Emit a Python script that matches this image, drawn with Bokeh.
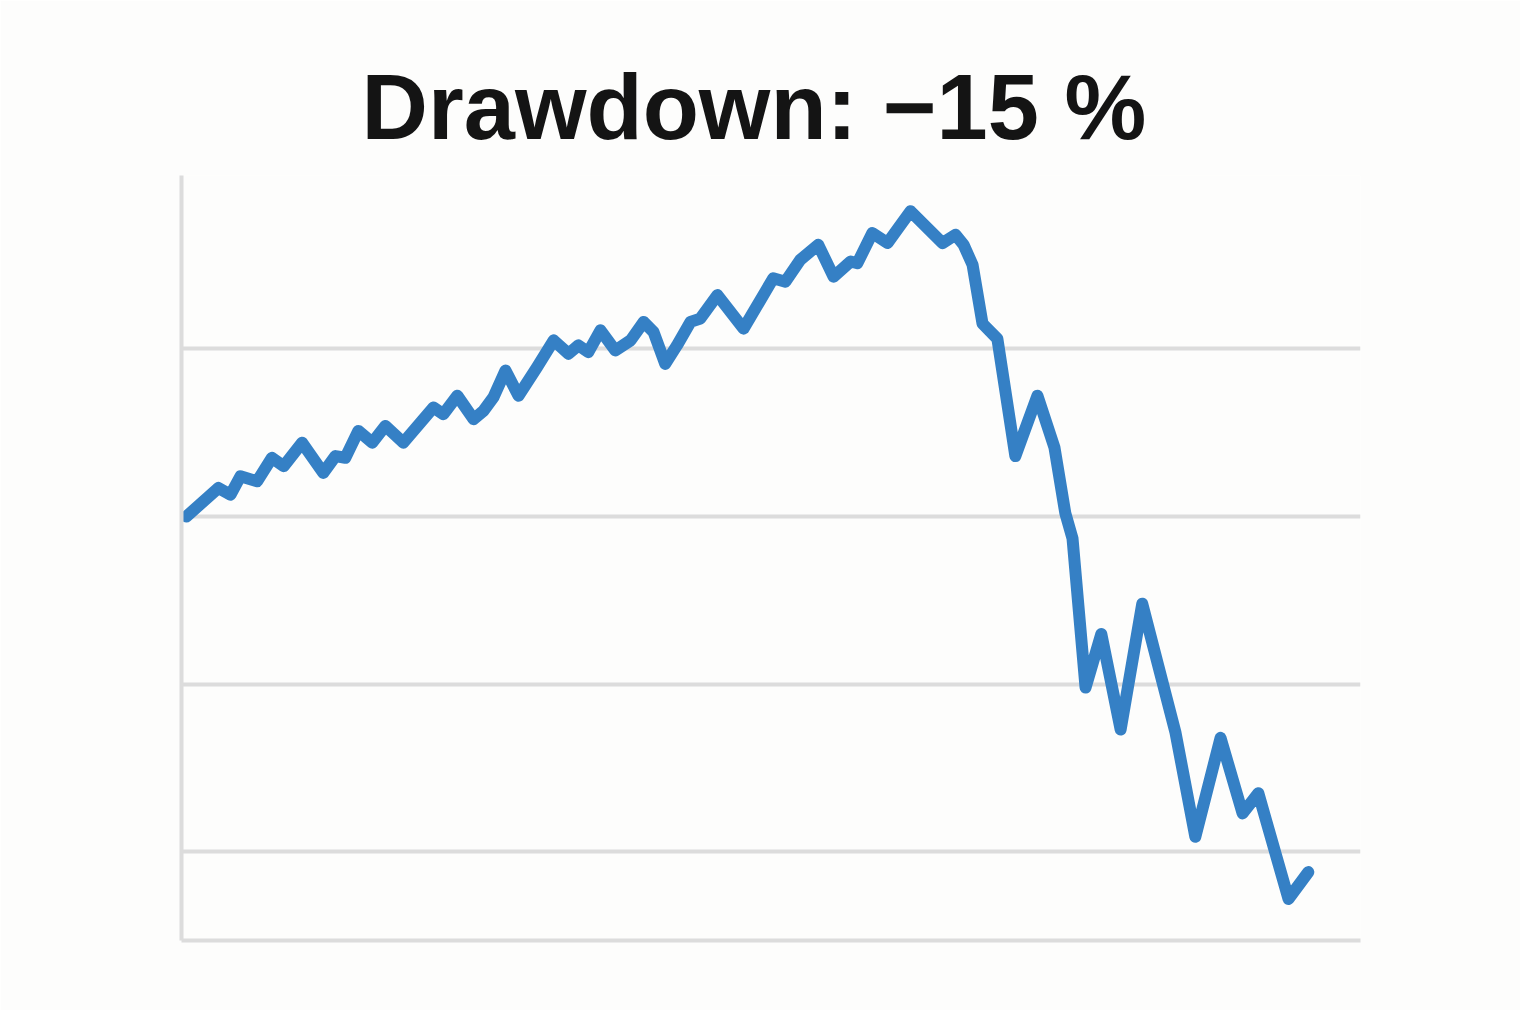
from bokeh.plotting import figure
from bokeh.models import Range1d, FixedTicker
from bokeh.embed import file_html
from bokeh.resources import INLINE

# trading day and portfolio value (start = 100)
days = [0, 7.1, 9.8, 12.0, 15.7, 19.0, 21.6, 25.7, 30.4, 33.1, 35.3, 38.2, 41.3, 44.2, 48.2,
        54.9, 57.1, 60.2, 63.8, 66.0, 68.2, 70.9, 73.8, 77.9, 81.6, 84.9, 87.1, 89.3, 92.0,
        95.3, 98.7, 101.6, 103.8, 106.4, 109.0, 112.0, 114.2, 118.0, 123.8, 130.4, 133.1,
        136.4, 140.4, 143.8, 147.6, 149.1, 152.4, 155.8, 158.2, 160.9, 168.0, 170.9, 172.7,
        174.7, 176.9, 180.2, 184.2, 189.1, 192.9, 195.3, 196.9, 199.8, 203.3, 207.6, 212.4,
        219.8, 224.2, 229.8, 234.7, 238.2, 244.9, 249.3]
values = [100.0, 101.7, 101.3, 102.4, 102.1, 103.5, 103.0, 104.4, 102.6, 103.6, 103.5, 105.1,
          104.4, 105.4, 104.4, 106.5, 106.1, 107.2, 105.8, 106.3, 107.1, 108.7, 107.2, 108.9,
          110.5, 109.7, 110.2, 109.8, 111.1, 109.9, 110.5, 111.6, 111.0, 109.1, 110.2, 111.6,
          111.8, 113.2, 111.2, 114.2, 114.0, 115.3, 116.2, 114.3, 115.2, 115.1, 116.9, 116.3,
          117.2, 118.2, 116.3, 116.8, 116.2, 115.0, 111.5, 110.6, 103.6, 107.2, 104.1, 100.2,
          98.7, 89.8, 93.0, 87.3, 94.8, 87.1, 80.9, 86.8, 82.3, 83.5, 77.2, 78.8]
grid_values = [80, 90, 100, 110]
title_text = "Drawdown: \u221215 %"

p = figure(output_backend="svg", toolbar_location=None,
           frame_width=1179, frame_height=765,
           min_border_left=181, min_border_right=160,
           min_border_top=175, min_border_bottom=70,
           x_range=Range1d(-1.1, 260.9), y_range=Range1d(74.72, 120.33),
           background_fill_color="#fdfdfc", border_fill_color="#fdfdfc")

p.title.text = title_text
p.title.align = "left"
p.title.text_font = "Liberation Sans"
p.title.text_font_style = "bold"
p.title.text_font_size = "92px"
p.title.text_color = "#141414"
p.title.standoff = 36
p.title.offset = 180

p.outline_line_color = None
p.xgrid.grid_line_color = None
p.ygrid.ticker = FixedTicker(ticks=grid_values)
p.ygrid.grid_line_color = "#dcdcdc"
p.ygrid.grid_line_width = 4

for ax in (p.xaxis[0], p.yaxis[0]):
    ax.axis_line_color = "#dcdcdc"
    ax.axis_line_width = 4
    ax.major_tick_line_color = None
    ax.minor_tick_line_color = None
    ax.major_label_text_font_size = "0px"
    ax.major_label_text_color = None

p.line(days, values, line_color="#3580c5", line_width=12,
       line_join="round", line_cap="round")

open("out.html", "w").write(file_html(p, INLINE))
